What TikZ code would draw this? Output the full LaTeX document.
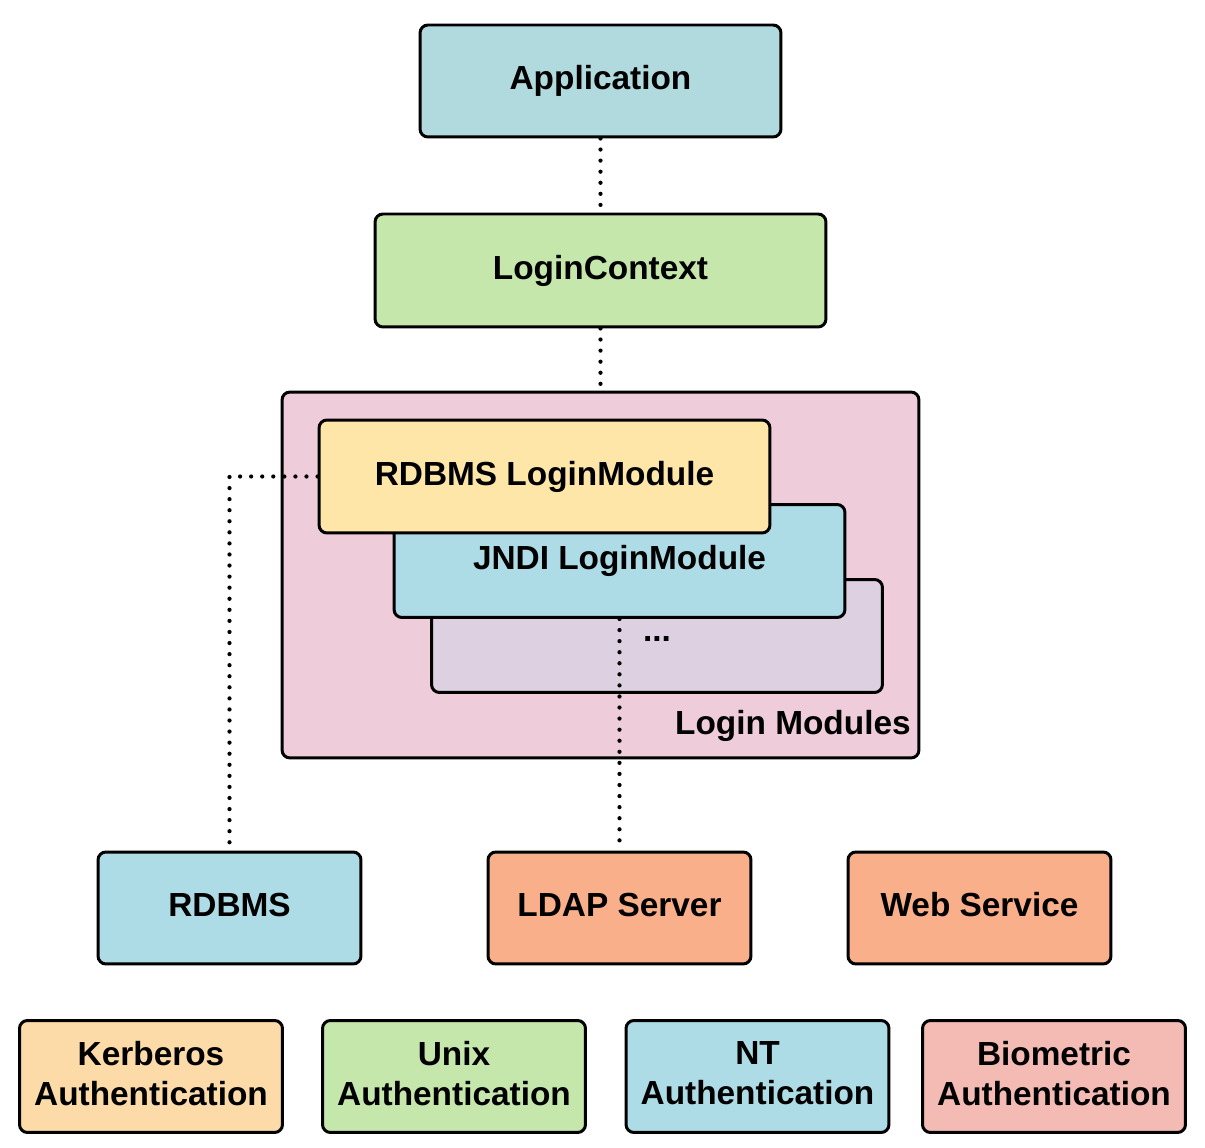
\documentclass[tikz,border=0pt]{standalone}
\usepackage{fontspec}
\setmainfont{Liberation Sans}
\definecolor{bleuvert}{HTML}{B1DADF}
\definecolor{vert}{HTML}{C6E7AC}
\definecolor{rose}{HTML}{EFCCDA}
\definecolor{jaune}{HTML}{FEE6A9}
\definecolor{bleu}{HTML}{ADDCE6}
\definecolor{mauve}{HTML}{DDD0E0}
\definecolor{saumon}{HTML}{F9AF89}
\definecolor{orange}{HTML}{FCDBA8}
\definecolor{rosesaumon}{HTML}{F4BBB4}
\begin{document}
\begin{tikzpicture}[x=0.02cm,y=-0.02cm]
    \tikzset{texte/.style={align=center, font=\fontsize{19}{22.7}\selectfont\bfseries,
        inner sep=0pt, text depth=0.4em}}
    \tikzset{boite/.style={texte, draw, line width=1.7pt, rounded corners=4.5pt}}
    \tikzset{grande/.style={boite, minimum width=9.02cm, minimum height=2.26cm}}
    \tikzset{petite/.style={boite, minimum width=5.26cm, minimum height=2.24cm}}
    \tikzset{lien/.style={line width=2.4pt, line cap=round, dash pattern=on 0pt off 6.3pt}}
    \useasboundingbox (0,0) rectangle (1205,1148);
    \node[boite, fill=bleuvert, minimum width=7.22cm, minimum height=2.24cm] (app) at (600.5, 81) {Application};
    \node[grande, fill=vert] (ctx) at (600.5, 270.5) {LoginContext};
    \node[boite, fill=rose, minimum width=12.74cm, minimum height=7.32cm] (modules) at (600.5, 575) {};
    \node[texte, anchor=east] (titre) at (911, 726) {Login Modules};
    \node[grande, fill=mauve, text height=0.75em, text depth=0.1em] (autres) at (657, 636) {...};
    \node[grande, fill=bleu] (jndi) at (619.5, 561) {JNDI LoginModule};
    \node[grande, fill=jaune] (rdbmsmod) at (544.5, 476.5) {RDBMS LoginModule};
    \node[petite, fill=bleu] (rdbms) at (229.5, 908) {RDBMS};
    \node[petite, fill=saumon] (ldap) at (619.5, 908) {LDAP Server};
    \node[petite, fill=saumon] (web) at (979.5, 908) {Web Service};
    \node[petite, fill=orange] (kerberos) at (151, 1076.5) {Kerberos\\Authentication};
    \node[petite, fill=vert] (unix) at (454, 1076.5) {Unix\\Authentication};
    \node[petite, fill=bleu] (nt) at (757.5, 1076.5) {NT\\Authentication};
    \node[petite, fill=rosesaumon] (bio) at (1054, 1076.5) {Biometric\\Authentication};
    \draw[lien] (app) -- (ctx);
    \draw[lien] (ctx) -- (modules);
    \draw[lien] (rdbmsmod.west) -| (rdbms.north);
    \draw[lien] (jndi.south) -- (ldap.north);
  \end{tikzpicture}
\end{document}
